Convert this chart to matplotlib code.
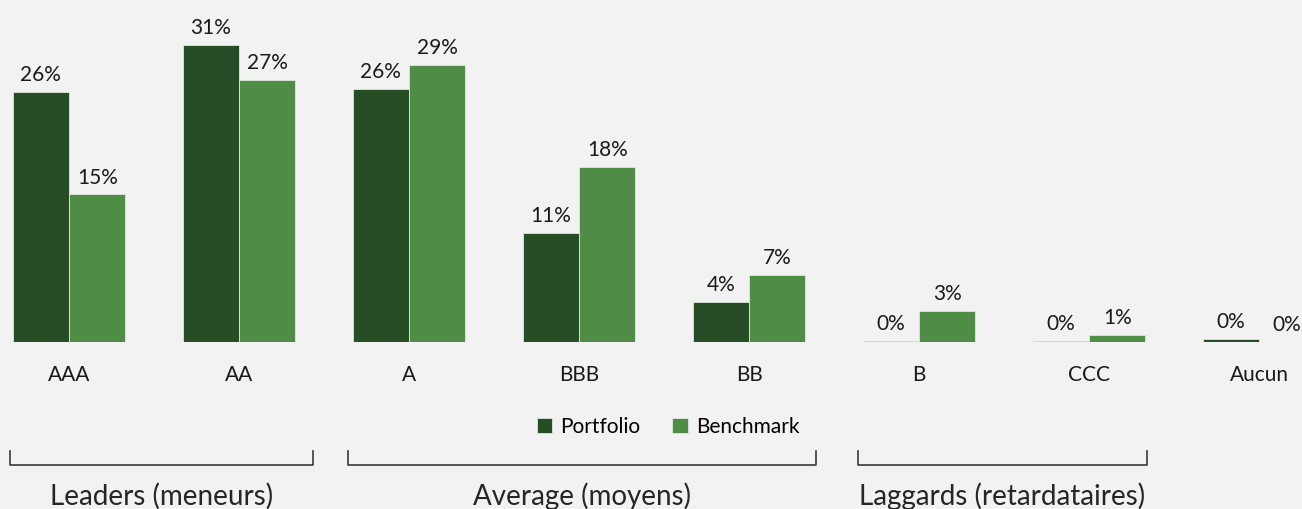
import matplotlib
matplotlib.use("Agg")
import matplotlib.pyplot as plt
import numpy as np
from matplotlib.lines import Line2D

plt.rcParams['font.family'] = ['Lato', 'DejaVu Sans']

categories = ['AAA', 'AA', 'A', 'BBB', 'BB', 'B', 'CCC', 'Aucun']
portfolio = [26.1, 31.0, 26.4, 11.4, 4.2, 0.15, 0.08, 0.35]
benchmark = [15.4, 27.4, 28.9, 18.3, 7.0, 3.2, 0.7, 0.0]
groups = ['Leaders (meneurs)', 'Average (moyens)', 'Laggards (retardataires)']

dark = '#264d25'
light = '#4f8c46'
bg = '#f2f2f2'

W, H = 1302, 509
fig = plt.figure(figsize=(W / 100, H / 100), dpi=100, facecolor=bg)
ax = fig.add_axes([0, (H - 342) / H, 1, 342 / H])
ax.set_facecolor(bg)

x = np.arange(len(categories))
w = 0.332
b1 = ax.bar(x - w / 2, portfolio, w, color=dark, edgecolor='#dfe8de', linewidth=0.6, label='Portfolio')
b2 = ax.bar(x + w / 2, benchmark, w, color=light, edgecolor='#dfe8de', linewidth=0.6, label='Benchmark')

for bars, vals in ((b1, portfolio), (b2, benchmark)):
    for r, v in zip(bars, vals):
        ax.annotate(f'{v:.0f}%', (r.get_x() + r.get_width() / 2, r.get_height()),
                    xytext=(0, 5), textcoords='offset points',
                    ha='center', va='bottom', fontsize=15, color='#1a1a1a',
                    annotation_clip=False)

ax.set_xlim(-69 / 170, (W - 69) / 170)
ax.set_ylim(0, 342 / 9.58)
ax.set_xticks(x)
ax.set_xticklabels(categories, fontsize=15, color='#1a1a1a')
ax.tick_params(axis='x', length=0, pad=16.5)
ax.set_yticks([])
for s in ax.spines.values():
    s.set_visible(False)

fig.legend(handles=[b1, b2], loc='center', bbox_to_anchor=(668 / W, 1 - 427 / H),
           ncol=2, frameon=False, fontsize=15, handlelength=0.75, handleheight=0.75,
           handletextpad=0.4, columnspacing=1.5)

# brackets under the groups
spans = [(10, 313), (348, 816), (858, 1147)]
for (x0, x1), name in zip(spans, groups):
    xs = [x0 / W, x0 / W, x1 / W, x1 / W]
    ys = [1 - 451 / H, 1 - 465 / H, 1 - 465 / H, 1 - 451 / H]
    fig.add_artist(Line2D(xs, ys, color='#3a3a3a', linewidth=1.2, transform=fig.transFigure))
    fig.text((x0 + x1) / 2 / W, 1 - 496 / H, name, ha='center', va='center',
             fontsize=20, color='#262626')

fig.savefig('out.png', dpi=100, facecolor=bg)
